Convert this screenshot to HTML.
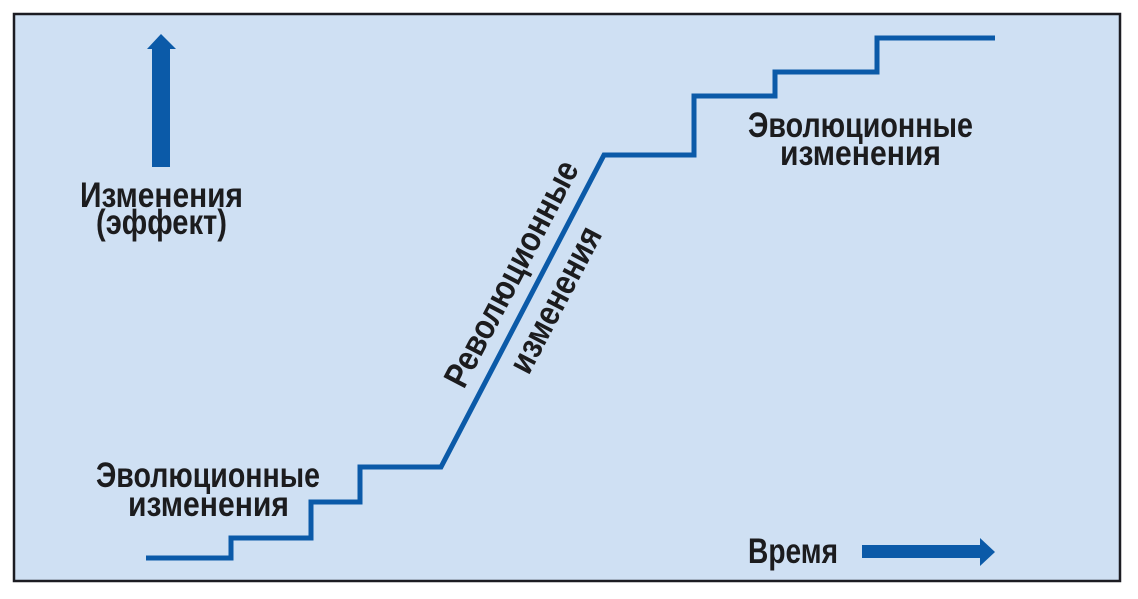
<!DOCTYPE html>
<html><head><meta charset="utf-8"><style>
html,body{margin:0;padding:0;background:#fff;}
svg{display:block}
text{font-family:"Liberation Sans Narrow","Liberation Sans",sans-serif;font-weight:bold;font-size:35px;fill:#1c1c1e}
</style></head><body>
<svg width="1138" height="599" viewBox="0 0 1138 599" xmlns="http://www.w3.org/2000/svg">
<rect x="14" y="14" width="1106" height="567" fill="#cfe0f3" stroke="#1c1c22" stroke-width="2.5"/>
<rect x="152" y="48" width="18" height="119" fill="#0b5aa8"/>
<polygon points="147,49 161,34 176,49" fill="#0b5aa8"/>
<rect x="862" y="545" width="120" height="13" fill="#0b5aa8"/>
<polygon points="980,538 995,552 980,566" fill="#0b5aa8"/>
<polyline points="146,558 231,558 231,538 311,538 311,502 360,502 360,467 441,467 604,155 694,155 694,96 775,96 775,72 877,72 877,38 995,38" fill="none" stroke="#0b5aa8" stroke-width="5"/>
<text x="80" y="207" textLength="163" lengthAdjust="spacingAndGlyphs">Изменения</text>
<text x="96" y="234" textLength="131" lengthAdjust="spacingAndGlyphs">(эффект)</text>
<text x="96" y="487" textLength="224" lengthAdjust="spacingAndGlyphs">Эволюционные</text>
<text x="128" y="516" textLength="161" lengthAdjust="spacingAndGlyphs">изменения</text>
<text x="748" y="137" textLength="225" lengthAdjust="spacingAndGlyphs">Эволюционные</text>
<text x="780" y="165" textLength="161" lengthAdjust="spacingAndGlyphs">изменения</text>
<text x="748" y="563" textLength="90" lengthAdjust="spacingAndGlyphs">Время</text>
<g transform="translate(512,274) rotate(-62.4)">
<text x="0" y="11" text-anchor="middle" textLength="250" lengthAdjust="spacingAndGlyphs">Революционные</text>
</g>
<g transform="translate(556,300) rotate(-62.4)">
<text x="0" y="11" text-anchor="middle" textLength="160" lengthAdjust="spacingAndGlyphs">изменения</text>
</g>
</svg>
</body></html>
